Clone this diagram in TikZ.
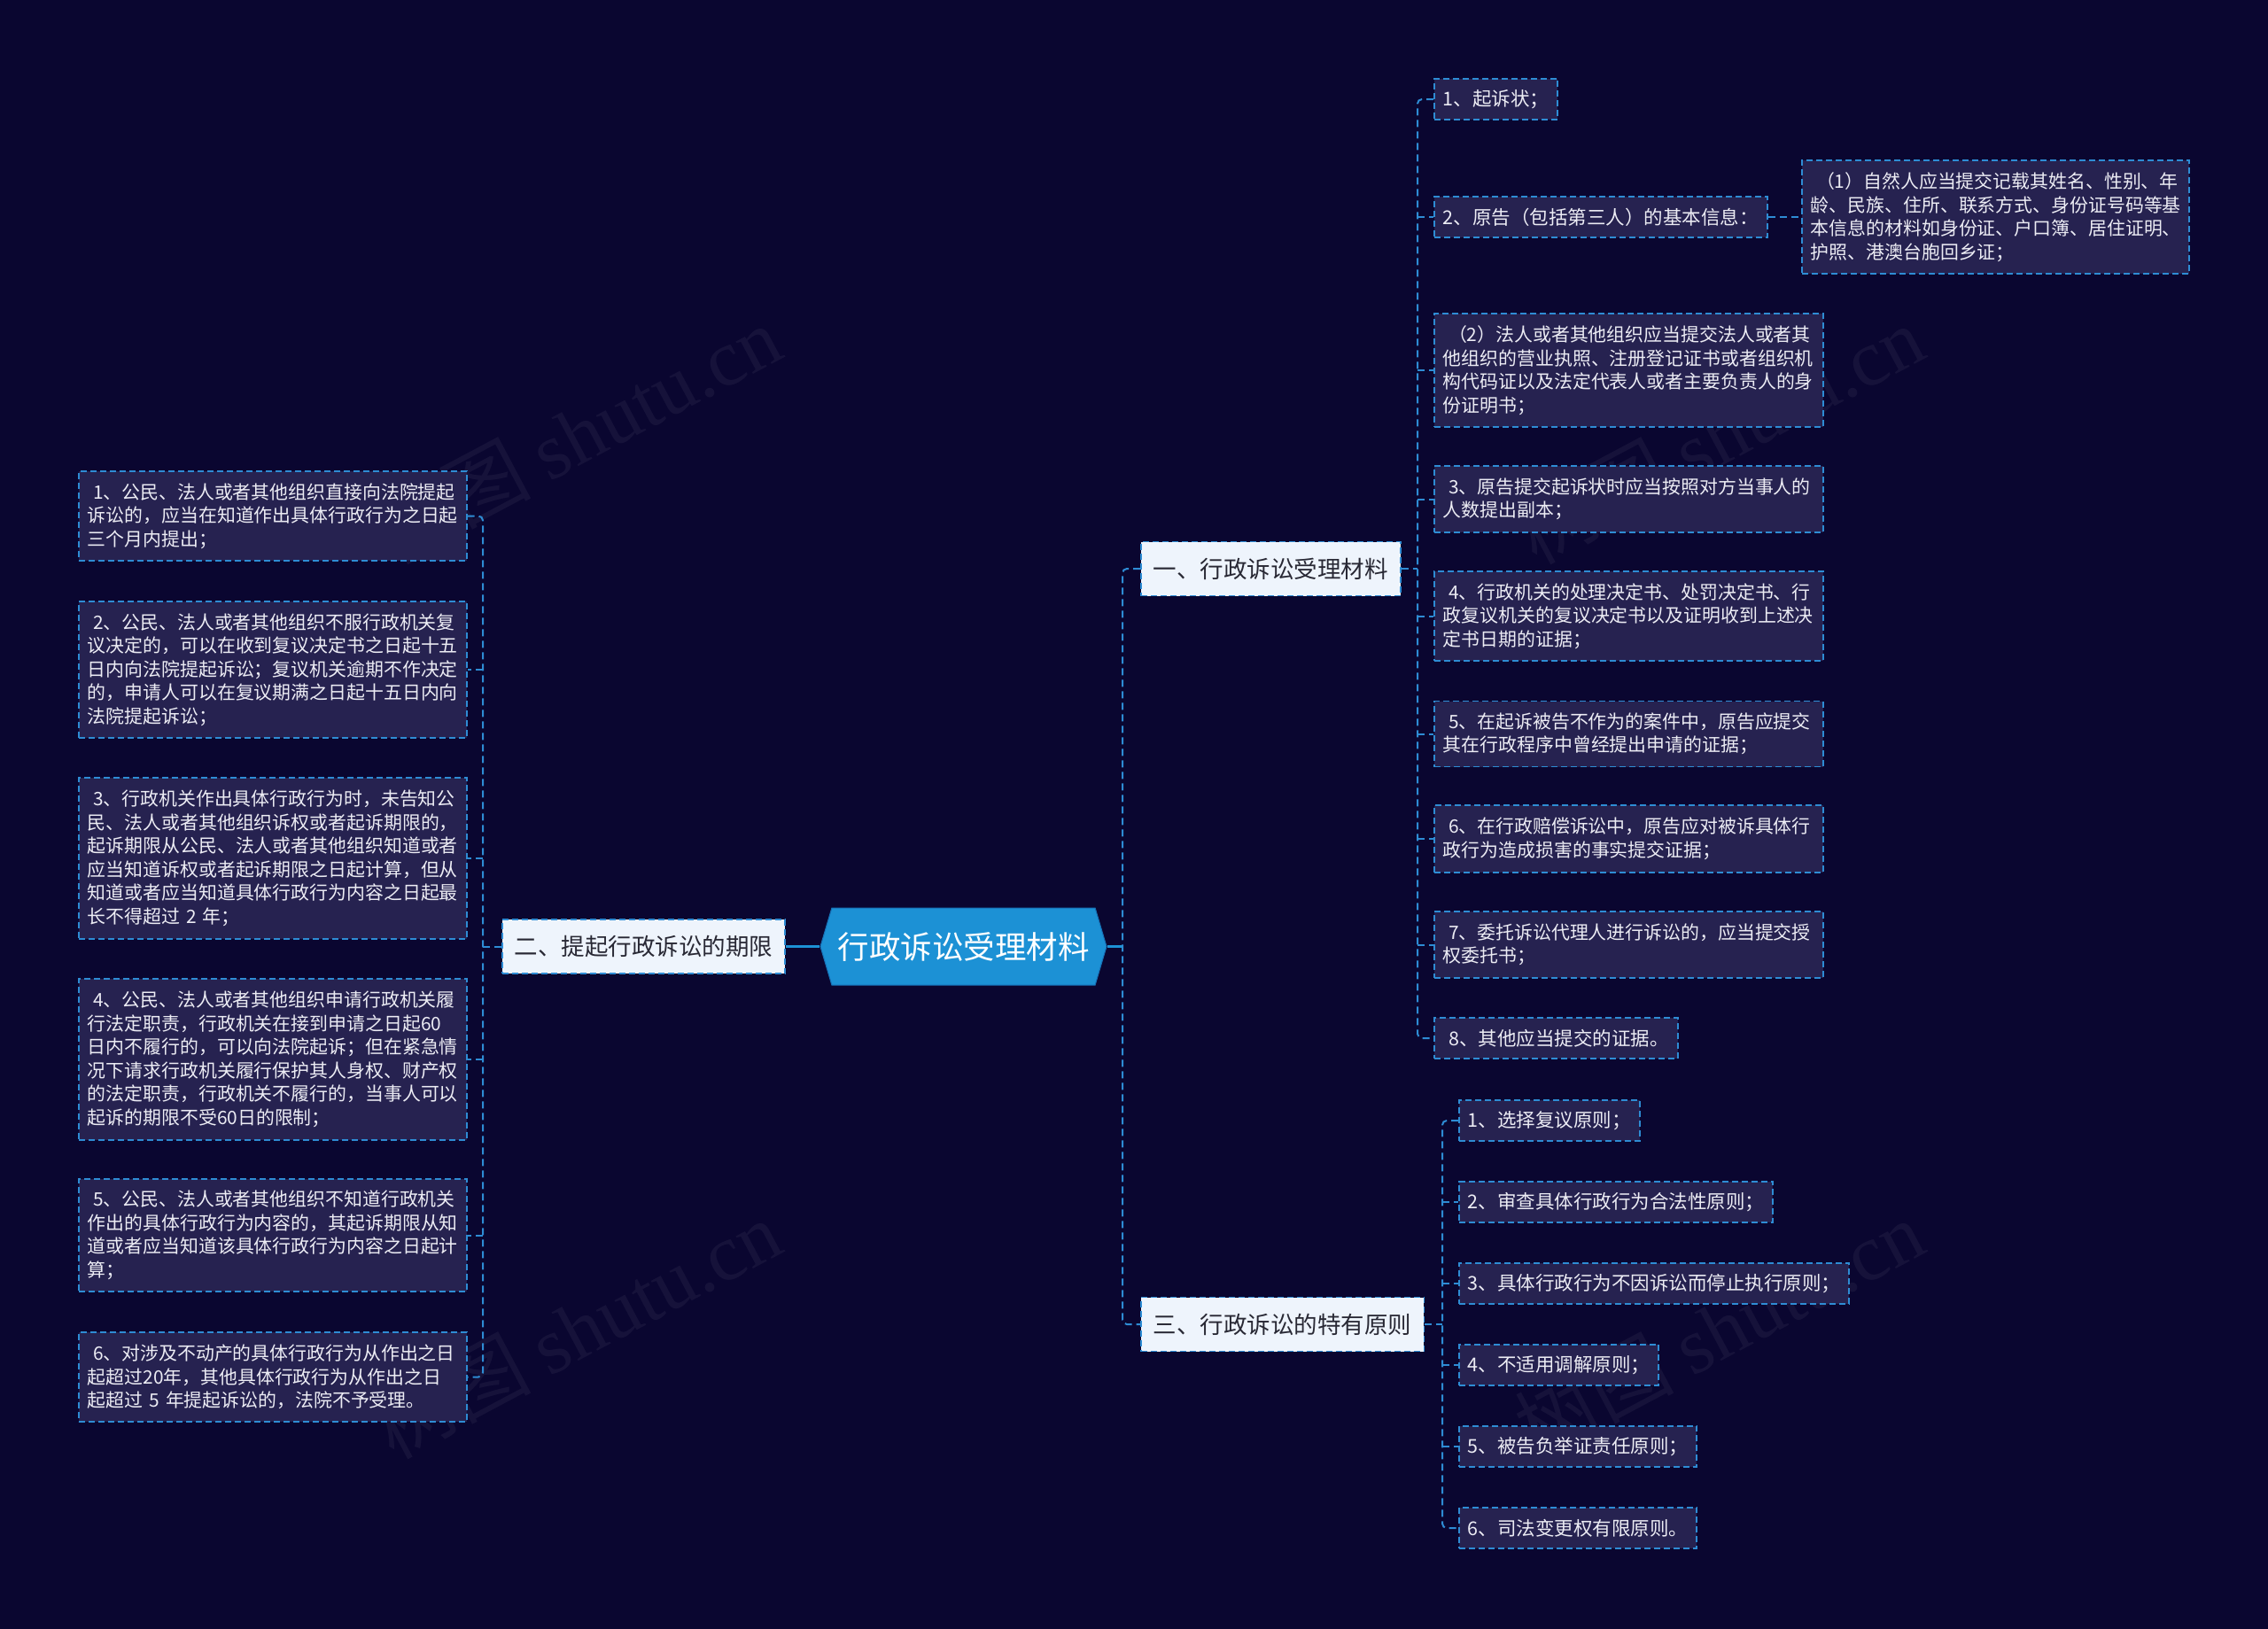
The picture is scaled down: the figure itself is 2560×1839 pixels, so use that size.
\documentclass[tikz,border=0pt]{standalone}
\usepackage{fontspec}
\setmainfont{Noto Sans CJK SC}
\newfontfamily\wmserif{Liberation Serif}
\usetikzlibrary{shapes.symbols}
\definecolor{bg}{RGB}{10,6,48}
\definecolor{leaffill}{RGB}{38,34,80}
\definecolor{lineblue}{RGB}{46,140,212}
\definecolor{leaftext}{RGB}{236,236,244}
\definecolor{branchfill}{RGB}{238,244,252}
\definecolor{branchtext}{RGB}{40,40,52}
\definecolor{centerfill}{RGB}{28,145,213}
\definecolor{centerline}{RGB}{22,112,182}
\begin{document}
\begin{tikzpicture}[x=1pt,y=-1pt,
  leaf/.style={draw=lineblue, fill=leaffill, line width=1.6pt, dash pattern=on 7pt off 4pt,
    text=leaftext, font=\fontsize{21.5}{26.5}\selectfont, inner xsep=10pt, inner ysep=5pt,
    align=left, minimum height=46pt},
  leafw/.style={leaf, font=\fontsize{20.9}{26.5}\selectfont},
  branch/.style={draw=lineblue, fill=branchfill, line width=1.6pt, dash pattern=on 7pt off 4pt,
    text=branchtext, font=\fontsize{26.5}{30}\selectfont, inner xsep=14pt, minimum height=61pt},
  conn/.style={draw=lineblue, line width=2pt, dash pattern=on 8pt off 5pt, rounded corners=5pt},
  stub/.style={draw=centerfill, line width=3pt},
  wm/.style={text=white, opacity=0.05, rotate=28, font=\fontsize{90}{90}\selectfont}]
\useasboundingbox (0,0) rectangle (2560,1839);
\fill[bg] (0,0) rectangle (2560,1839);

% watermarks
\node[wm] (wm1) at (650,490) {树图 {\wmserif shutu.cn}};
\node[wm] (wm2) at (650,1500) {树图 {\wmserif shutu.cn}};
\node[wm] (wm3) at (1940,490) {树图 {\wmserif shutu.cn}};
\node[wm] (wm4) at (1940,1500) {树图 {\wmserif shutu.cn}};

% center
\node[signal, signal to=west and east, signal pointer angle=147, fill=centerfill, draw=centerline,
  line width=1pt, text=white, font=\fontsize{35.5}{40}\selectfont, minimum width=323pt,
  minimum height=87pt, inner xsep=4pt] (c) at (1087.5,1068.5) {行政诉讼受理材料};

% branches
\node[branch, anchor=west] (b1) at (1287,642) {一、行政诉讼受理材料};
\node[branch, anchor=east] (b2) at (887,1068.5) {二、提起行政诉讼的期限};
\node[branch, anchor=west] (b3) at (1287,1495) {三、行政诉讼的特有原则};

% branch 1 children
\node[leaf, anchor=west] (r1) at (1618,112) {1、起诉状；};
\node[leaf, anchor=west] (r2) at (1618,245) {2、原告（包括第三人）的基本信息：};
\node[leafw, anchor=west, text width=417pt, minimum height=128pt] (r2a) at (2033,245)
  {\hspace{0.3em}（1）自然人应当提交记载其姓名、性别、年\\龄、民族、住所、联系方式、身份证号码等基\\本信息的材料如身份证、户口簿、居住证明、\\护照、港澳台胞回乡证；};
\node[leafw, anchor=west, text width=419pt, minimum height=128pt] (r3) at (1618,418)
  {\hspace{0.3em}（2）法人或者其他组织应当提交法人或者其\\他组织的营业执照、注册登记证书或者组织机\\构代码证以及法定代表人或者主要负责人的身\\份证明书；};
\node[leafw, anchor=west, text width=419pt, minimum height=75pt] (r4) at (1618,563.5)
  {\hspace{0.3em}3、原告提交起诉状时应当按照对方当事人的\\人数提出副本；};
\node[leafw, anchor=west, text width=419pt, minimum height=101pt] (r5) at (1618,695.5)
  {\hspace{0.3em}4、行政机关的处理决定书、处罚决定书、行\\政复议机关的复议决定书以及证明收到上述决\\定书日期的证据；};
\node[leafw, anchor=west, text width=419pt, minimum height=74pt] (r6) at (1618,828.5)
  {\hspace{0.3em}5、在起诉被告不作为的案件中，原告应提交\\其在行政程序中曾经提出申请的证据；};
\node[leafw, anchor=west, text width=419pt, minimum height=76pt] (r7) at (1618,947)
  {\hspace{0.3em}6、在行政赔偿诉讼中，原告应对被诉具体行\\政行为造成损害的事实提交证据；};
\node[leafw, anchor=west, text width=419pt, minimum height=75pt] (r8) at (1618,1066.5)
  {\hspace{0.3em}7、委托诉讼代理人进行诉讼的，应当提交授\\权委托书；};
\node[leaf, anchor=west] (r9) at (1618,1172) {\hspace{0.3em}8、其他应当提交的证据。};

% branch 2 children
\node[leafw, anchor=west, text width=418pt, minimum height=101pt] (l1) at (88,582.5)
  {\hspace{0.3em}1、公民、法人或者其他组织直接向法院提起\\诉讼的，应当在知道作出具体行政行为之日起\\三个月内提出；};
\node[leafw, anchor=west, text width=418pt, minimum height=154pt] (l2) at (88,756)
  {\hspace{0.3em}2、公民、法人或者其他组织不服行政机关复\\议决定的，可以在收到复议决定书之日起十五\\日内向法院提起诉讼；复议机关逾期不作决定\\的，申请人可以在复议期满之日起十五日内向\\法院提起诉讼；};
\node[leafw, anchor=west, text width=418pt, minimum height=182pt] (l3) at (88,969)
  {\hspace{0.3em}3、行政机关作出具体行政行为时，未告知公\\民、法人或者其他组织诉权或者起诉期限的，\\起诉期限从公民、法人或者其他组织知道或者\\应当知道诉权或者起诉期限之日起计算，但从\\知道或者应当知道具体行政行为内容之日起最\\长不得超过 2 年；};
\node[leafw, anchor=west, text width=418pt, minimum height=182pt] (l4) at (88,1196)
  {\hspace{0.3em}4、公民、法人或者其他组织申请行政机关履\\行法定职责，行政机关在接到申请之日起60\\日内不履行的，可以向法院起诉；但在紧急情\\况下请求行政机关履行保护其人身权、财产权\\的法定职责，行政机关不履行的，当事人可以\\起诉的期限不受60日的限制；};
\node[leafw, anchor=west, text width=418pt, minimum height=127pt] (l5) at (88,1394.5)
  {\hspace{0.3em}5、公民、法人或者其他组织不知道行政机关\\作出的具体行政行为内容的，其起诉期限从知\\道或者应当知道该具体行政行为内容之日起计\\算；};
\node[leafw, anchor=west, text width=418pt, minimum height=101pt] (l6) at (88,1554.5)
  {\hspace{0.3em}6、对涉及不动产的具体行政行为从作出之日\\起超过20年，其他具体行政行为从作出之日\\起超过 5 年提起诉讼的，法院不予受理。};

% branch 3 children
\node[leaf, anchor=west] (t1) at (1646,1265) {1、选择复议原则；};
\node[leaf, anchor=west] (t2) at (1646,1357) {2、审查具体行政行为合法性原则；};
\node[leaf, anchor=west] (t3) at (1646,1449) {3、具体行政行为不因诉讼而停止执行原则；};
\node[leaf, anchor=west] (t4) at (1646,1541) {4、不适用调解原则；};
\node[leaf, anchor=west] (t5) at (1646,1633) {5、被告负举证责任原则；};
\node[leaf, anchor=west] (t6) at (1646,1725) {6、司法变更权有限原则。};

% trunk coordinates
\coordinate (xc) at (1267,1068.5);
\coordinate (x1) at (1600,642);
\coordinate (x2) at (545,1068.5);
\coordinate (x3) at (1628,1495);

% center connectors
\draw[stub] (c.east) -- (xc);
\draw[stub] (b2.east) -- (c.west);
\draw[conn] (b1.west) -- (xc|-b1.west) -- (xc|-b3.west) -- (b3.west);

% branch 1 connectors
\draw[conn] (b1.east) -- (x1);
\draw[conn] (r1.west) -- (x1|-r1.west) -- (x1|-r9.west) -- (r9.west);
\foreach \n in {r2,r3,r4,r5,r6,r7,r8} \draw[conn] (x1|-\n.west) -- (\n.west);
\draw[conn] (r2.east) -- (r2a.west);

% branch 2 connectors
\draw[conn] (b2.west) -- (x2);
\draw[conn] (l1.east) -- (x2|-l1.east) -- (x2|-l6.east) -- (l6.east);
\foreach \n in {l2,l3,l4,l5} \draw[conn] (x2|-\n.east) -- (\n.east);

% branch 3 connectors
\draw[conn] (b3.east) -- (x3);
\draw[conn] (t1.west) -- (x3|-t1.west) -- (x3|-t6.west) -- (t6.west);
\foreach \n in {t2,t3,t4,t5} \draw[conn] (x3|-\n.west) -- (\n.west);
\end{tikzpicture}
\end{document}
